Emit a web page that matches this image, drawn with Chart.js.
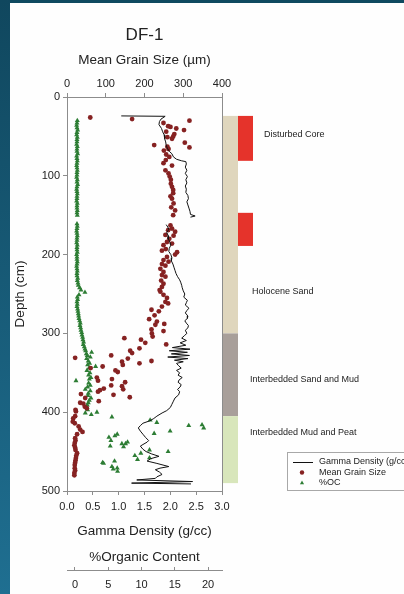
<!DOCTYPE html>
<html>
<head>
<meta charset="utf-8">
<script src="https://cdn.jsdelivr.net/npm/chart.js@4.4.0/dist/chart.umd.js"></script>
<style>
  html, body { margin: 0; padding: 0; }
  body { width: 404px; height: 594px; overflow: hidden; position: relative; background: #0f4a60; }
  #strip { position: absolute; left: 0; top: 0; width: 10px; height: 594px; background: linear-gradient(#10475e, #1f6f91); }
  #sheet { position: absolute; left: 10px; top: 3px; width: 394px; height: 591px; background: #fefefe; }
  #wrap { position: absolute; left: 0; top: 0; width: 404px; height: 594px; }
</style>
</head>
<body>
<div id="strip"></div>
<div id="sheet"></div>
<div id="wrap"><canvas id="chart" width="404" height="594"></canvas></div>
<script>
// DF-1 core log: grain size, gamma density, organic content vs depth

// tick labels
const depthTicks = [0, 100, 200, 300, 400, 500];
const grainTicks = [0, 100, 200, 300, 400];
const gammaTicks = [0, 0.5, 1, 1.5, 2, 2.5, 3];
const ocTicks = [0, 5, 10, 15, 20];

// mean grain size (um) by depth (cm)
const grainDepth = [
  26, 28, 30, 33, 37, 38, 40, 42, 44, 47, 50, 51, 53, 58, 61, 63, 64, 66, 68, 73,
  76, 80, 84, 87, 93, 97, 101, 105, 110, 114, 118, 122, 126, 129, 135, 140, 144, 150,
  163, 167, 169, 171, 175, 176, 180, 184, 186, 188, 193, 195, 197, 200, 203, 207, 209, 212,
  214, 218, 222, 226, 228, 233, 237, 241, 245, 247, 251, 255, 260, 262, 266, 270, 272, 277,
  282, 285, 288, 289, 295, 297, 300, 304, 306, 308, 312, 314, 319, 322, 325, 328, 331, 332,
  335, 336, 338, 340, 342, 344, 347, 349, 356, 358, 360, 362, 366, 367, 370, 371, 372, 374,
  377, 378, 381, 382, 386, 388, 389, 393, 395, 397, 399, 405, 408, 412, 414, 418, 422, 425,
  428, 433, 436, 439, 442, 445, 448, 452, 455, 458, 461, 464, 467, 471, 474, 477, 480
];
const grainSize = [
  60, 168, 316, 249, 261, 267, 282, 302, 256, 277, 274, 259, 271, 304, 225, 259, 316, 262, 250, 256,
  264, 255, 249, 271, 254, 262, 265, 268, 268, 271, 274, 274, 267, 271, 275, 269, 279, 274,
  267, 271, 261, 279, 254, 275, 264, 258, 271, 249, 255, 245, 284, 279, 258, 249, 262, 245,
  254, 241, 249, 245, 254, 243, 249, 245, 239, 241, 249, 258, 254, 261, 245, 218, 237, 226,
  212, 232, 251, 228, 218, 249, 219, 221, 148, 191, 202, 256, 187, 163, 168, 114, 21, 157,
  218, 142, 187, 144, 92, 61, 125, 131, 77, 116, 80, 150, 114, 142, 95, 145, 85, 80,
  36, 120, 162, 47, 82, 34, 42, 46, 51, 22, 23, 21, 16, 15, 20, 30, 34, 40,
  26, 21, 22, 20, 19, 21, 22, 26, 24, 23, 22, 21, 20, 20, 21, 19, 19
];

// gamma density (g/cc) by depth (cm); null = no data
const gammaDepth = [
  24, 24.5, 28, 31, 35, 40, 44, 48, 53, 57, 61, 65, 69, 72, 76, 79, 81, 82, 85, 89,
  93, 97, 101, 105, 109, 113, 117, 121, 125, 129, 133, 137, 141, 145, 149, 151, 152.5, 157,
  162, 165, 168, 172, 176, 180, 184, 188, 192, 196, 200, 204, 208, 212, 216, 220, 224, 228,
  232, 235, 239, 242, 246, 250, 254, 258, 261, 264, 268, 271, 274, 278, 281, 284, 287, 290,
  293, 296, 300, 303, 306, 309, 312, 315, 318, 320, 322, 324, 326, 328, 330, 332, 334, 336,
  338, 341, 344, 347, 350, 353, 356, 359, 362, 365, 368, 371, 374, 378, 382, 386, 390, 394,
  398, 401, 405, 408, 411, 414, 417, 420, 424, 428, 432, 436, 438, 441, 443, 447, 450, 453,
  456, 459, 462, 465, 469, 471, 473, 476, 479, 482, 484, 486, 488, 490, 491
];
const gammaDensity = [
  1.05, 1.90, 1.82, 1.79, 1.78, 1.83, 1.85, 1.88, 1.89, 1.91, 1.92, 1.94, 1.98, 2.03, 2.06, 2.12, 2.22, 2.30, 2.31, 2.29,
  2.32, 2.29, 2.33, 2.30, 2.32, 2.29, 2.31, 2.30, 2.34, 2.35, 2.32, 2.34, 2.36, 2.38, 2.39, 2.48, 2.39, null,
  1.92, 1.95, 1.97, 1.93, 1.96, 1.96, 1.99, 2.01, 1.98, 1.97, 2.01, 2.03, 2.02, 2.05, 2.07, 2.09, 2.11, 2.14,
  2.18, 2.20, 2.22, 2.23, 2.25, 2.28, 2.26, 2.33, 2.31, 2.29, 2.36, 2.32, 2.29, 2.34, 2.33, 2.28, 2.31, 2.35,
  2.34, 2.29, 2.32, 2.27, 2.22, 2.31, 2.19, 2.30, 2.04, 2.38, 1.98, 2.33, 2.02, 2.37, 1.95, 2.34, 2.08, 2.25,
  2.12, 2.16, 2.21, 2.12, 2.18, 2.15, 2.23, 2.17, 2.15, 2.21, 2.19, 2.14, 2.18, 2.16, 2.09, 2.06, 2.03, 2.00,
  1.93, 1.84, 1.74, 1.68, 1.60, 1.47, 1.42, 1.38, 1.42, 1.47, 1.52, 1.58, 1.55, 1.47, 1.42, 1.47, 1.53, 1.64,
  1.78, 1.62, 1.55, 1.74, 1.97, 1.80, 1.71, 1.79, 1.84, 1.74, 1.71, 1.35, 2.43, 1.25, 2.40
];

// organic content (%) by depth (cm)
const ocDepth = [
  30, 33, 36, 39, 42, 45, 48, 51, 54, 57,
  60, 63, 66, 69, 72, 75, 78, 81, 84, 87,
  90, 93, 96, 99, 102, 105, 108, 111, 114, 117,
  120, 123, 126, 129, 132, 135, 138, 141, 144, 147,
  150,
  161, 164, 167, 170, 173, 176, 179, 182, 185, 188,
  191, 194, 197, 200, 203, 206, 209, 212, 215, 218,
  221, 224, 227, 230, 233, 236, 239, 242, 245,
  248, 251, 254, 257, 260, 263, 266, 269, 272, 275,
  278, 281, 284, 287, 290, 293, 296, 299,
  302, 305, 308, 311, 314, 317, 320, 322, 324, 326,
  328, 330, 332, 335, 338, 340, 342, 344, 347, 350,
  353, 356, 358, 360, 363, 366, 368, 371, 373, 376,
  379, 382, 385, 388, 391, 394, 397, 400, 401, 403,
  406, 410, 413, 417, 416, 420, 424, 427, 428, 430,
  432, 436, 438, 440, 440, 444, 443, 448, 450, 452,
  455, 458, 460, 462, 464, 465, 469, 471, 472, 475
];
const ocPercent = [
  0.35, 0.30, 0.25, 0.30, 0.40, 0.30, 0.25, 0.35, 0.30, 0.30,
  0.25, 0.35, 0.30, 0.30, 0.40, 0.25, 0.30, 0.35, 0.30, 0.25,
  0.30, 0.35, 0.30, 0.30, 0.25, 0.35, 0.30, 0.40, 0.30, 0.25,
  0.30, 0.35, 0.30, 0.30, 0.25, 0.35, 0.30, 0.30, 0.35, 0.30,
  0.35,
  0.30, 0.35, 0.30, 0.25, 0.30, 0.35, 0.30, 0.30, 0.25, 0.35,
  0.30, 0.30, 0.35, 0.25, 0.30, 0.30, 0.35, 0.30, 0.25, 0.30,
  0.35, 0.30, 0.30, 0.40, 0.35, 0.45, 0.50, 0.70, 0.90,
  1.50, 0.60, 0.35, 0.40, 0.30, 0.35, 0.30, 0.40, 0.45, 0.50,
  0.55, 0.60, 0.70, 0.80, 0.75, 0.85, 0.90, 1.00,
  1.05, 1.15, 1.20, 1.30, 1.25, 1.40, 1.50, 1.60, 2.50, 1.70,
  1.85, 2.30, 1.75, 2.00, 2.20, 1.90, 3.10, 2.10, 1.80, 2.25,
  2.05, 2.40, 2.15, 0.15, 2.05, 2.30, 1.90, 1.55, 2.30, 2.00,
  1.95, 2.40, 2.15, 2.00, 1.85, 1.80, 1.90, 3.30, 1.55, 2.45,
  5.55, 11.3, 12.3, 17.1, 19.1, 19.35, 14.3, 11.9, 6.35, 6.0,
  5.1, 5.4, 7.9, 7.05, 7.6, 7.3, 5.3, 11.2, 14.0, 9.9,
  9.0, 11.2, 9.4, 5.95, 4.15, 4.3, 5.55, 6.35, 5.75, 6.4
];

// lithology column (depth intervals, cm)
const unitTop = [24, 300, 405];
const unitBottom = [300, 405, 490];
const disturbedTop = [24, 147];
const disturbedBottom = [81, 189];
const unitLabels = ['Disturbed Core', 'Holocene Sand', 'Interbedded Sand and Mud', 'Interbedded Mud and Peat'];
const unitLabelDepth = [47, 247, 359, 426];

const legendLabels = ['Gamma Density (g/cc)', 'Mean Grain Size', '%OC'];

// styles
const FONT = '"Liberation Sans", Arial, sans-serif';
const AXIS_GRAY = '#8c8c8c';
const TEXT = '#222';
const DOT_RED = '#862222';
const TRI_GREEN = '#2d7d34';
const unitColors = ['#dfd6bd', '#a89f9a', '#d8e6bb'];
const DISTURBED_RED = '#e5332b';

Chart.defaults.font.family = FONT;
Chart.defaults.color = TEXT;

function zip(depths, values) {
  return depths.map(function(d, i) { return { x: values[i], y: d }; });
}
function fixedTicks(list) {
  return function(scale) { scale.ticks = list.map(function(v) { return { value: v }; }); };
}

const sidePanel = {
  id: 'sidePanel',
  afterDraw(chart) {
    const ctx = chart.ctx;
    const area = chart.chartArea;
    const y = chart.scales.y;
    const x0 = area.right;
    ctx.save();

    // lithology column
    for (let i = 0; i < unitTop.length; i++) {
      const t = y.getPixelForValue(unitTop[i]);
      const b = y.getPixelForValue(unitBottom[i]);
      ctx.fillStyle = unitColors[i];
      ctx.fillRect(x0 + 1, t, 15, b - t);
    }
    for (let i = 0; i < disturbedTop.length; i++) {
      const t = y.getPixelForValue(disturbedTop[i]);
      const b = y.getPixelForValue(disturbedBottom[i]);
      ctx.fillStyle = DISTURBED_RED;
      ctx.fillRect(x0 + 16, t, 15, b - t);
    }

    // unit labels
    ctx.fillStyle = TEXT;
    ctx.font = '9px ' + FONT;
    ctx.textBaseline = 'middle';
    ctx.textAlign = 'left';
    const labelX = [42, 30, 28, 28];
    unitLabels.forEach(function(txt, i) {
      ctx.fillText(txt, x0 + labelX[i], y.getPixelForValue(unitLabelDepth[i]));
    });

    // legend
    const lx = x0 + 65, ly = area.bottom - 39;
    ctx.strokeStyle = '#a8a8a8';
    ctx.lineWidth = 1;
    ctx.strokeRect(lx + 0.5, ly + 0.5, 140, 38);
    const rows = [ly + 10, ly + 20.5, ly + 31];
    ctx.strokeStyle = '#111';
    ctx.beginPath();
    ctx.moveTo(lx + 6, rows[0] + 0.5);
    ctx.lineTo(lx + 26, rows[0] + 0.5);
    ctx.stroke();
    ctx.fillStyle = DOT_RED;
    Chart.helpers.drawPoint(ctx, { pointStyle: 'circle', radius: 2.2, borderWidth: 0 }, lx + 15, rows[1]);
    ctx.fillStyle = TRI_GREEN;
    Chart.helpers.drawPoint(ctx, { pointStyle: 'triangle', radius: 2.4, borderWidth: 0 }, lx + 15, rows[2]);
    ctx.fillStyle = TEXT;
    legendLabels.forEach(function(txt, i) {
      ctx.fillText(txt, lx + 32, rows[i]);
    });
    ctx.restore();
  }
};

new Chart(document.getElementById('chart'), {
  type: 'scatter',
  data: {
    datasets: [{
      label: legendLabels[0],
      data: zip(gammaDepth, gammaDensity),
      xAxisID: 'xGD',
      yAxisID: 'y',
      showLine: true,
      borderColor: '#111',
      borderWidth: 1,
      pointRadius: 0,
      tension: 0,
      spanGaps: false,
      order: 0
    }, {
      label: legendLabels[1],
      data: zip(grainDepth, grainSize),
      xAxisID: 'xGS',
      yAxisID: 'y',
      backgroundColor: DOT_RED,
      borderWidth: 0,
      pointRadius: 2.4,
      order: 1
    }, {
      label: legendLabels[2],
      data: zip(ocDepth, ocPercent),
      xAxisID: 'xOC',
      yAxisID: 'y',
      pointStyle: 'triangle',
      backgroundColor: TRI_GREEN,
      borderWidth: 0,
      pointRadius: 2.9,
      order: 2
    }]
  },
  options: {
    responsive: false,
    animation: false,
    events: [],
    layout: { padding: { left: 0, right: 182, top: 0, bottom: 0 } },
    plugins: {
      legend: { display: false },
      tooltip: { enabled: false }
    },
    scales: {
      y: {
        type: 'linear', position: 'left', reverse: true, min: 0, max: 500,
        afterBuildTicks: fixedTicks(depthTicks),
        ticks: { font: { size: 11 }, color: TEXT, padding: 3 },
        grid: { drawOnChartArea: false, tickLength: 4, color: AXIS_GRAY },
        border: { color: AXIS_GRAY },
        title: { display: true, text: 'Depth (cm)', font: { size: 13.5 }, color: TEXT, padding: { top: 12, bottom: 0 } },
        afterFit: function(s) { s.width = 67; }
      },
      yR: {
        type: 'linear', position: 'right', reverse: true, min: 0, max: 500,
        ticks: { display: false },
        grid: { display: false, drawTicks: false },
        border: { color: AXIS_GRAY },
        afterFit: function(s) { s.width = 0; }
      },
      xTitle: {
        type: 'linear', position: 'top', weight: 2, min: 0, max: 1,
        ticks: { display: false },
        grid: { display: false, drawTicks: false },
        border: { display: false },
        title: { display: true, text: 'DF-1', font: { size: 17 }, color: TEXT, padding: { top: 25, bottom: 0 } },
        afterFit: function(s) { s.height = 46; }
      },
      xGS: {
        type: 'linear', position: 'top', weight: 1, min: 0, max: 400,
        afterBuildTicks: fixedTicks(grainTicks),
        ticks: { font: { size: 11 }, color: TEXT, padding: 2, maxRotation: 0 },
        grid: { drawOnChartArea: false, tickLength: 4, color: AXIS_GRAY },
        border: { color: AXIS_GRAY },
        title: { display: true, text: 'Mean Grain Size (µm)', font: { size: 13.5 }, color: TEXT, padding: { top: 6, bottom: 0 } },
        afterFit: function(s) { s.height = 51; }
      },
      xGD: {
        type: 'linear', position: 'bottom', weight: 1, min: 0, max: 3,
        afterBuildTicks: fixedTicks(gammaTicks),
        ticks: { font: { size: 11 }, color: TEXT, padding: 5, maxRotation: 0, callback: function(v) { return Number(v).toFixed(1); } },
        grid: { drawOnChartArea: false, tickLength: 4, color: AXIS_GRAY },
        border: { color: AXIS_GRAY },
        title: {
          display: true, text: ['Gamma Density (g/cc)', '%Organic Content'],
          font: { size: 13.5, lineHeight: '26px' }, color: TEXT, padding: { top: 0, bottom: 0 }
        },
        afterFit: function(s) { s.height = 79; }
      },
      xOC: {
        type: 'linear', position: 'bottom', weight: 2, min: -1.2, max: 22.1,
        afterBuildTicks: fixedTicks(ocTicks),
        ticks: { font: { size: 11 }, color: TEXT, padding: 11, maxRotation: 0 },
        grid: { drawOnChartArea: false, tickLength: -3, color: AXIS_GRAY },
        border: { color: AXIS_GRAY },
        afterFit: function(s) { s.height = 24; }
      }
    }
  },
  plugins: [sidePanel]
});
</script>
</body>
</html>
